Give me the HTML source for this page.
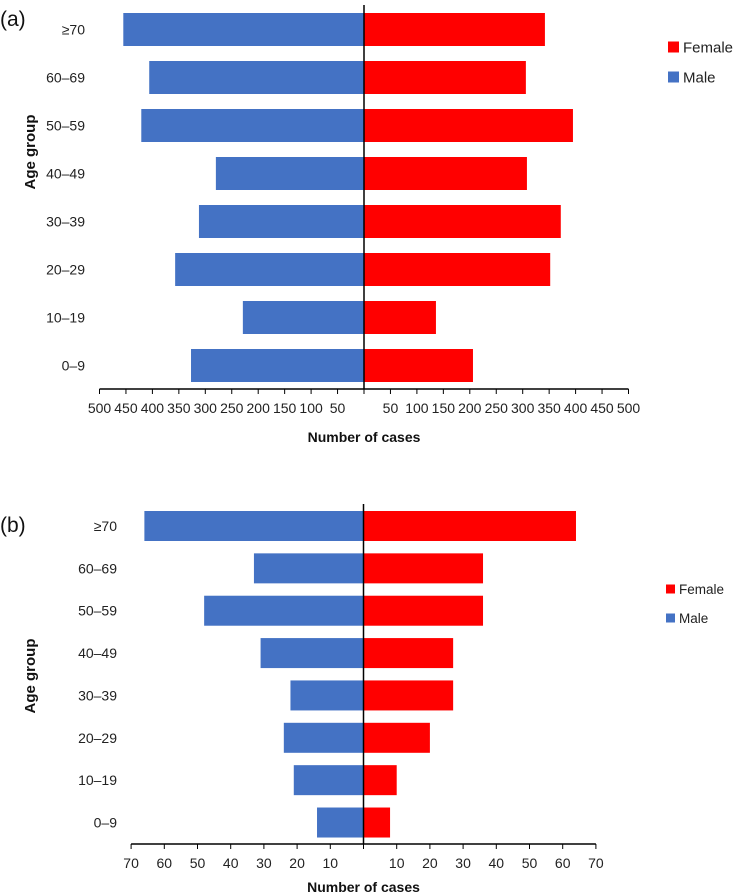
<!DOCTYPE html>
<html><head><meta charset="utf-8">
<style>
body{margin:0;background:#fff;width:735px;height:895px;overflow:hidden;font-family:"Liberation Sans",sans-serif;}
svg{display:block}
</style></head>
<body>
<svg id="chart" width="735" height="895" xmlns="http://www.w3.org/2000/svg" font-family="Liberation Sans, sans-serif"></svg>
<script>
const categories = ["≥70","60–69","50–59","40–49","30–39","20–29","10–19","0–9"];
const maleA = [455,406,421,280,312,357,229,327];
const femaleA = [342,306,395,308,372,352,136,206];
const ticksA = [500,450,400,350,300,250,200,150,100,50,0,50,100,150,200,250,300,350,400,450,500];
const maleB = [66,33,48,31,22,24,21,14];
const femaleB = [64,36,36,27,27,20,10,8];
const ticksB = [70,60,50,40,30,20,10,0,10,20,30,40,50,60,70];

const svg = document.getElementById('chart');
const NS = 'http://www.w3.org/2000/svg';
function mk(tag, attrs, parent){const e=document.createElementNS(NS,tag);for(const k in attrs)e.setAttribute(k,attrs[k]);(parent||svg).appendChild(e);return e;}

function panel(cfg){
  const g = mk('g',{});
  
  
  const sx = v => cfg.pxPer * v;
  const rowY = i => cfg.row0 + cfg.rowStep * i;
  categories.forEach((c,i)=>{
    const m = mk('rect',{x:cfg.cx - sx(cfg.male[i]), y:rowY(i)-cfg.barH/2, width:sx(cfg.male[i]), height:cfg.barH, fill:'#4472C4'}, g);
    
    
    const f = mk('rect',{x:cfg.cx, y:rowY(i)-cfg.barH/2, width:sx(cfg.female[i]), height:cfg.barH, fill:'#FF0000'}, g);
    
    
    const t = mk('text',{x:cfg.labelX, y:rowY(i)+5, 'text-anchor':'end', 'font-size':14, fill:'#222'}, g);
    t.textContent = c;
    
    
  });
  const cl = mk('line',{x1:cfg.cx,x2:cfg.cx,y1:cfg.lineTop,y2:cfg.axisY,stroke:'#000','stroke-width':1.5},g);
  
  
  const n = cfg.ticks.length, half = (n-1)/2;
  const ax = mk('line',{x1:cfg.cx - sx(cfg.ticks[0]), x2:cfg.cx + sx(cfg.ticks[n-1]), y1:cfg.axisY, y2:cfg.axisY, stroke:'#000','stroke-width':1.5},g);
  
  
  cfg.ticks.forEach((v,i)=>{
    const x = i<half ? cfg.cx - sx(v) : cfg.cx + sx(v);
    mk('line',{x1:x,x2:x,y1:cfg.axisY,y2:cfg.axisY+5,stroke:'#000','stroke-width':1},g);
    if(v!==0){
      const t = mk('text',{x:x,y:cfg.axisY+24,'text-anchor':'middle','font-size':cfg.tickFont,fill:'#222'},g);
      t.textContent = v;
      
      
    }
  });
  const xt = mk('text',{x:cfg.cx,y:cfg.xTitleY,'text-anchor':'middle','font-size':14,'font-weight':'bold',fill:'#111'},g);
  xt.textContent = 'Number of cases';
  
  
  const yt = mk('text',{x:0,y:0,'text-anchor':'middle','font-size':15,'font-weight':'bold',fill:'#111',transform:`translate(${cfg.yTitleX},${cfg.yTitleY}) rotate(-90)`},g);
  yt.textContent = 'Age group';
  
  
  const pl = mk('text',{x:0,y:cfg.panelLabelY,'font-size':21,fill:'#111'},g);
  pl.textContent = cfg.panelLabel;
  
  
  [['Female','#FF0000',0],['Male','#4472C4',1]].forEach(([lab,col,k])=>{
    const y = cfg.legY + k*cfg.legStep;
    const s = mk('rect',{x:cfg.legX,y:y-cfg.legSq/2,width:cfg.legSq,height:cfg.legSq,fill:col},g);
    
    
    const t = mk('text',{x:cfg.legX+cfg.legSq+4,y:y+cfg.legFont*0.36,'font-size':cfg.legFont,fill:'#222'},g);
    t.textContent = lab;
    
    
  });
}

panel({name:'panel-a',male:maleA,female:femaleA,ticks:ticksA,cx:364,pxPer:529/1000,row0:29.5,rowStep:48,barH:33,
  labelX:85,lineTop:5,axisY:389,xTitleY:442,yTitleX:35,yTitleY:152,panelLabel:'(a)',panelLabelY:26,tickFont:14,
  legX:668,legY:47,legStep:30,legSq:11,legFont:15});
panel({name:'panel-b',male:maleB,female:femaleB,ticks:ticksB,cx:363.5,pxPer:33.2/10,row0:526,rowStep:42.36,barH:30,
  labelX:117,lineTop:504,axisY:844,xTitleY:892,yTitleX:35,yTitleY:676,panelLabel:'(b)',panelLabelY:532,tickFont:14,
  legX:666,legY:589,legStep:29,legSq:9,legFont:13.5});
</script>
</body></html>
